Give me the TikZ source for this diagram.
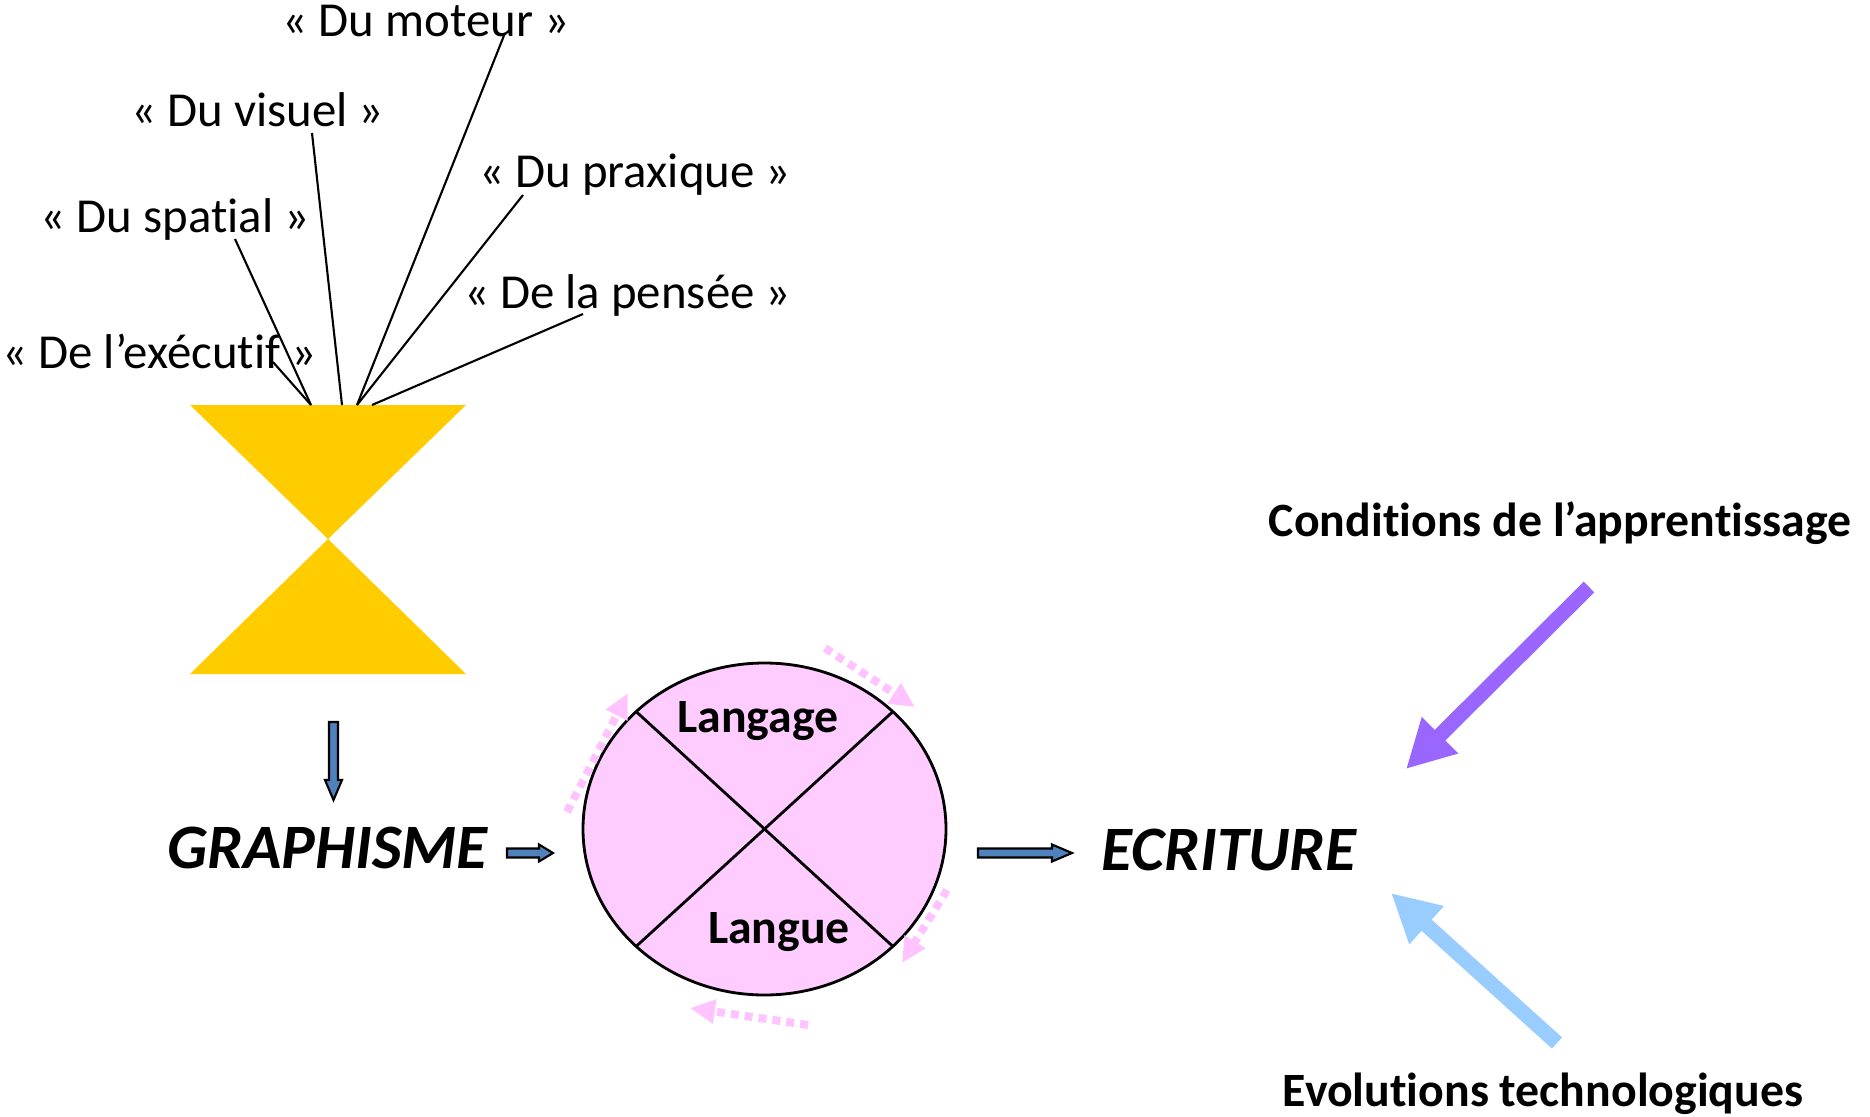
\documentclass[tikz,border=0pt]{standalone}
\usepackage{fontspec}
\setmainfont{Carlito}[Ligatures={NoCommon}]
\usetikzlibrary{calc,arrows.meta}
\definecolor{hourgold}{HTML}{FFCC00}
\definecolor{arrowblue}{HTML}{4F81BD}
\definecolor{pinkfill}{HTML}{FFCCFF}
\definecolor{pinkdot}{HTML}{FFC4FF}
\definecolor{condviolet}{HTML}{9966FF}
\definecolor{evolblue}{HTML}{99CCFF}

\begin{document}
\begin{tikzpicture}[
        gloss/.style={inner sep=0pt,anchor=base,font=\fontsize{13.9}{16}\selectfont},
        keyword/.style={inner sep=0pt,anchor=base,font=\fontsize{13.6}{16}\selectfont\bfseries},
        mainword/.style={inner sep=0pt,anchor=base,font=\fontsize{18}{21}\selectfont\bfseries\itshape},
        blockarrow/.style={draw=black,fill=arrowblue,line width=0.6pt,line join=miter},
        dotarrow/.style={draw=pinkdot,line width=0.08cm,dash pattern=on 0.08cm off 0.06cm,-{Triangle[length=0.25cm,width=0.23cm,fill=pinkdot]}},
        bigarrow/.style={line width=0.15cm,-{Triangle[length=0.48cm,width=0.48cm]}}]
        \useasboundingbox (0,0) rectangle (18.70,11.16);
        \fill[hourgold] (1.90,7.11) -- (4.66,7.11) -- (3.28,5.77) -- cycle;
        \fill[hourgold] (3.28,5.77) -- (1.90,4.42) -- (4.66,4.42) -- cycle;
        \node[gloss] (moteur) at (4.26,10.79) {« Du moteur »};
        \node[gloss] (visuel) at (2.575,9.89) {« Du visuel »};
        \node[gloss] (spatial) at (1.75,8.84) {« Du spatial »};
        \node[gloss] (executif) at (1.595,7.48) {« De l’exécutif »};
        \node[gloss] (praxique) at (6.35,9.29) {« Du praxique »};
        \node[gloss] (pensee) at (6.275,8.08) {« De la pensée »};
        \coordinate (mot-end) at (5.05,10.83);
        \coordinate (vis-end) at (3.12,9.83);
        \coordinate (spa-end) at (2.35,8.77);
        \coordinate (exe-end) at (2.73,7.54);
        \coordinate (pra-end) at (5.23,9.21);
        \coordinate (pen-end) at (5.83,8.02);
        \coordinate (h1) at (3.11,7.11);
        \coordinate (h2) at (3.42,7.11);
        \coordinate (h3) at (3.57,7.11);
        \coordinate (h4) at (3.72,7.11);
        \foreach \a/\b in {exe/h1, spa/h1, vis/h2, mot/h3, pra/h3, pen/h4}
            \draw[line width=0.6pt] (\a-end) -- (\b);
        \coordinate (dn-top) at (3.335,3.94);
        \coordinate (dn-tip) at (3.335,3.16);
        \draw[blockarrow] ($(dn-top)+(-0.045,0)$) -- ($(dn-tip)+(-0.045,0.2)$) -- ($(dn-tip)+(-0.085,0.2)$) -- (dn-tip) -- ($(dn-tip)+(0.085,0.2)$) -- ($(dn-tip)+(0.045,0.2)$) -- ($(dn-top)+(0.045,0)$) -- cycle;
        \node[mainword] (graphisme) at (3.275,2.48) {GRAPHISME};
        \node[mainword] (ecriture) at (12.29,2.46) {ECRITURE};
        \coordinate (g-out) at (5.07,2.63);
        \coordinate (c-in) at (5.53,2.63);
        \coordinate (c-out) at (9.78,2.63);
        \coordinate (e-in) at (10.72,2.63);
        \foreach \a/\b/\hl in {g-out/c-in/0.14, c-out/e-in/0.2}
            \draw[blockarrow] ($(\a)+(0,0.045)$) -- ($(\b)+(-\hl,0.045)$) -- ($(\b)+(-\hl,0.085)$) -- (\b) -- ($(\b)+(-\hl,-0.085)$) -- ($(\b)+(-\hl,-0.045)$) -- ($(\a)+(0,-0.045)$) -- cycle;
        \coordinate (c) at (7.645,2.87);
        \draw[fill=pinkfill,line width=0.8pt] (c) ellipse [x radius=1.815, y radius=1.66];
        \draw[line width=0.8pt] ($(c)+(45:1.815 and 1.66)$) -- ($(c)+(225:1.815 and 1.66)$);
        \draw[line width=0.8pt] ($(c)+(135:1.815 and 1.66)$) -- ($(c)+(315:1.815 and 1.66)$);
        \node[keyword] (langage) at (7.58,3.84) {Langage};
        \node[keyword] (langue) at (7.79,1.73) {Langue};
        \coordinate (d1a) at (8.25,4.68);
        \coordinate (d1b) at (9.15,4.09);
        \coordinate (d2a) at (9.47,2.26);
        \coordinate (d2b) at (9.02,1.53);
        \coordinate (d3a) at (8.08,0.91);
        \coordinate (d3b) at (6.90,1.08);
        \coordinate (d4a) at (5.67,3.04);
        \coordinate (d4b) at (6.28,4.23);
        \foreach \a/\b in {d1a/d1b, d2a/d2b, d3a/d3b, d4a/d4b}
            \draw[dotarrow] (\a) -- (\b);
        \node[keyword] (conditions) at (15.60,5.80) {Conditions de l’apprentissage};
        \node[keyword] (evolutions) at (15.43,0.10) {Evolutions technologiques};
        \coordinate (cond-tail) at (15.89,5.29);
        \coordinate (cond-tip) at (14.06,3.47);
        \coordinate (evol-tail) at (15.57,0.73);
        \coordinate (evol-tip) at (13.91,2.23);
        \draw[bigarrow,condviolet] (cond-tail) -- (cond-tip);
        \draw[bigarrow,evolblue] (evol-tail) -- (evol-tip);
    \end{tikzpicture}
\end{document}
